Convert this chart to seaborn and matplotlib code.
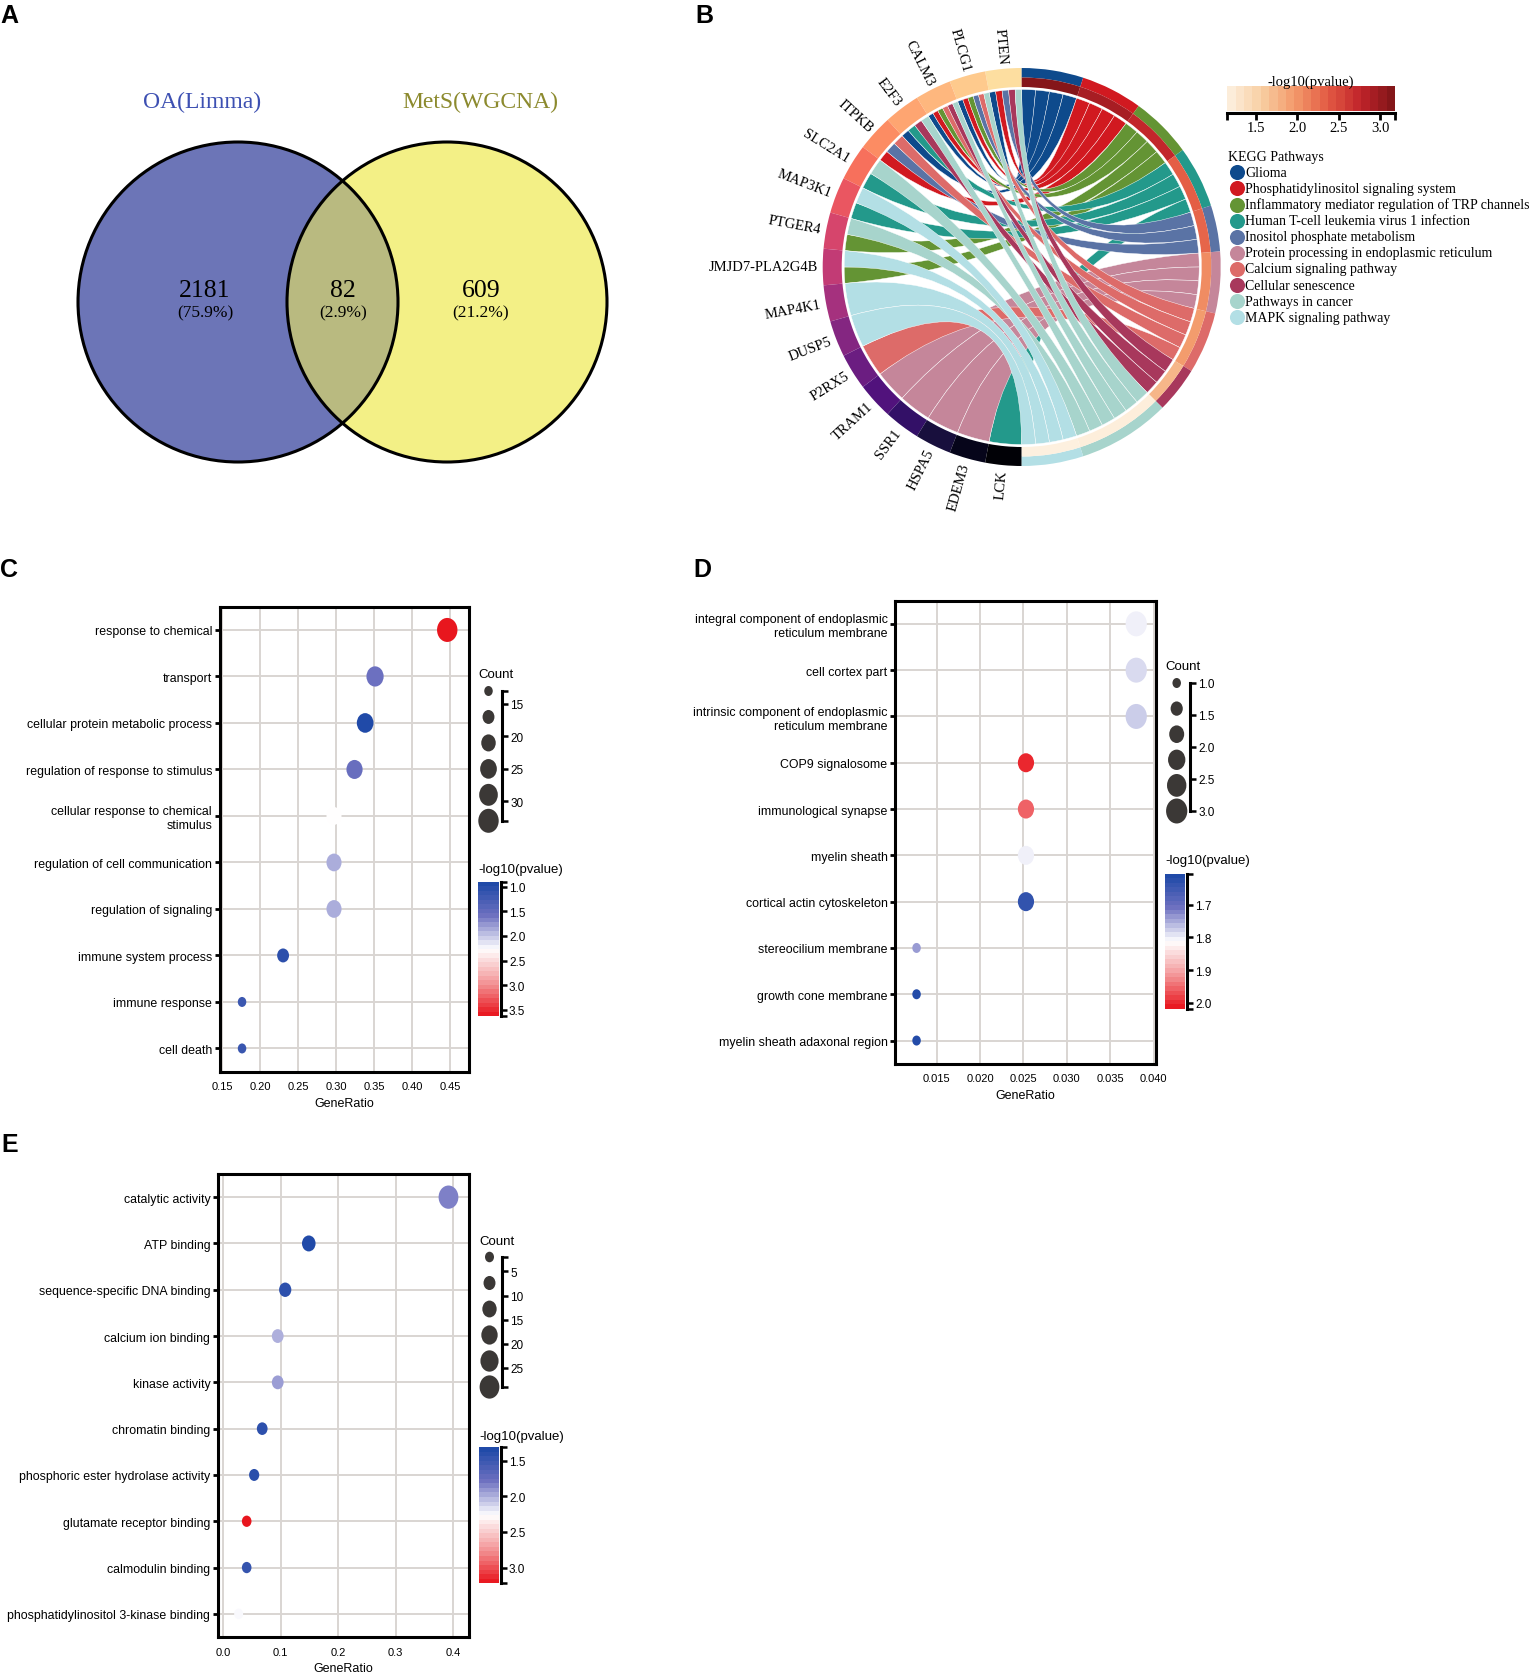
import numpy as np
import pandas as pd
import matplotlib
matplotlib.use('Agg')
import matplotlib.pyplot as plt
import seaborn as sns
from matplotlib.path import Path
from matplotlib.patches import PathPatch, Wedge, Circle
from matplotlib.colors import LinearSegmentedColormap, Normalize
from matplotlib.transforms import Affine2D

W, H = 1540, 1681

# ---------------- data ----------------
# A: venn
venn_names = ['OA(Limma)', 'MetS(WGCNA)']
venn_name_colors = ['#3d50b2', '#8c8a2e']
venn_counts = [2181, 82, 609]
venn_pcts = ['(75.9%)', '(2.9%)', '(21.2%)']

# B: KEGG chord
genes = ['PTEN', 'PLCG1', 'CALM3', 'E2F3', 'ITPKB', 'SLC2A1', 'MAP3K1', 'PTGER4',
         'JMJD7-PLA2G4B', 'MAP4K1', 'DUSP5', 'P2RX5', 'TRAM1', 'SSR1', 'HSPA5', 'EDEM3', 'LCK']
gene_level = [0.93, 0.89, 0.85, 0.81, 0.76, 0.70, 0.64, 0.58, 0.53, 0.46,
              0.38, 0.32, 0.25, 0.18, 0.11, 0.05, 0.01]
pathways = ['Glioma', 'Phosphatidylinositol signaling system',
            'Inflammatory mediator regulation of TRP channels',
            'Human T-cell leukemia virus 1 infection', 'Inositol phosphate metabolism',
            'Protein processing in endoplasmic reticulum', 'Calcium signaling pathway',
            'Cellular senescence', 'Pathways in cancer', 'MAPK signaling pathway']
pathway_colors = ['#0e4a8c', '#d11920', '#649434', '#23998b', '#5a73a5',
                  '#c5869a', '#dd6b69', '#a8385c', '#a7d4cc', '#b3dfe5']
pathway_logp = [3.12, 2.92, 2.75, 2.35, 2.30, 2.05, 1.95, 1.75, 1.20, 1.18]
# pathway indices linked to each gene
gene_pathways = [[0, 1, 4, 7, 8], [0, 1, 2, 4, 6, 8], [0, 1, 2, 6, 7, 8], [0, 3, 7, 8],
                 [1, 4, 6], [3, 8], [3, 9], [2, 8], [2, 9], [9], [9], [6],
                 [5], [5], [5], [5], [3]]

# C: GO BP
c_terms = ['response to chemical', 'transport', 'cellular protein metabolic process',
           'regulation of response to stimulus', 'cellular response to chemical\nstimulus',
           'regulation of cell communication', 'regulation of signaling',
           'immune system process', 'immune response', 'cell death']
c_ratio = [0.446, 0.351, 0.338, 0.324, 0.297, 0.297, 0.297, 0.230, 0.176, 0.176]
c_count = [33, 26, 25, 24, 22, 22, 22, 17, 13, 13]
c_logp = [3.60, 1.58, 0.95, 1.55, 2.27, 1.88, 1.88, 1.04, 1.17, 1.15]

# D: GO CC
d_terms = ['integral component of endoplasmic\nreticulum membrane', 'cell cortex part',
           'intrinsic component of endoplasmic\nreticulum membrane', 'COP9 signalosome',
           'immunological synapse', 'myelin sheath', 'cortical actin cytoskeleton',
           'stereocilium membrane', 'growth cone membrane', 'myelin sheath adaxonal region']
d_ratio = [0.0380, 0.0380, 0.0380, 0.0253, 0.0253, 0.0253, 0.0253, 0.0127, 0.0127, 0.0127]
d_count = [3, 3, 3, 2, 2, 2, 2, 1, 1, 1]
d_logp = [1.80, 1.785, 1.775, 2.00, 1.955, 1.80, 1.635, 1.74, 1.615, 1.615]

# E: GO MF
e_terms = ['catalytic activity', 'ATP binding', 'sequence-specific DNA binding',
           'calcium ion binding', 'kinase activity', 'chromatin binding',
           'phosphoric ester hydrolase activity', 'glutamate receptor binding',
           'calmodulin binding', 'phosphatidylinositol 3-kinase binding']
e_ratio = [0.392, 0.149, 0.108, 0.095, 0.095, 0.068, 0.054, 0.041, 0.041, 0.027]
e_count = [29, 11, 8, 7, 7, 5, 4, 3, 3, 2]
e_logp = [1.84, 1.35, 1.42, 2.00, 1.94, 1.42, 1.40, 3.20, 1.46, 2.25]

# ---------------- style ----------------
sns.set_theme(style='white', rc={'text.color': 'black', 'axes.labelcolor': 'black',
                                 'xtick.color': 'black', 'ytick.color': 'black'})
plt.rcParams['font.family'] = ['Liberation Sans', 'DejaVu Sans']
SERIF = ['Liberation Serif', 'DejaVu Serif']
SANS = ['Liberation Sans', 'DejaVu Sans']

cmap_dot = LinearSegmentedColormap.from_list(
    'bwr_dot', [(0, '#1b47a6'), (0.25, '#6d70c0'), (0.5, '#ffffff'),
                (0.75, '#f3989a'), (1, '#e8121a')])
cmap_p = LinearSegmentedColormap.from_list(
    'orrd_p', ['#fdf1e1', '#f8cfa3', '#f39a6b', '#e35a43', '#c0232a', '#7c1417'])
ell = Path.unit_circle().transformed(Affine2D().scale(0.85, 1.0))

fig = plt.figure(figsize=(W / 100, H / 100), dpi=100)


def px_axes(x0, y0, x1, y1):
    return fig.add_axes([x0 / W, 1 - y1 / H, (x1 - x0) / W, (y1 - y0) / H])


ov = px_axes(0, 0, W, H)
ov.set_xlim(0, W)
ov.set_ylim(H, 0)
ov.axis('off')

# panel letters
for lab, x, y in [('A', 0, 4), ('B', 695, 4), ('C', 0, 558), ('D', 693, 558), ('E', 1, 1133)]:
    ov.text(x, y, lab, ha='left', va='top', fontsize=18, weight='bold', family=SANS)

# ---------------- A: venn ----------------
left = Circle((238, 303), 160, facecolor='#6c75b7', edgecolor='none')
right = Circle((447, 303), 160, facecolor='#f3f086', edgecolor='none')
ov.add_patch(left)
ov.add_patch(right)
lens = Circle((447, 303), 160, facecolor='#b9ba80', edgecolor='none')
ov.add_patch(lens)
lens.set_clip_path(left)
for cx in (238, 447):
    ov.add_patch(Circle((cx, 303), 160, facecolor='none', edgecolor='black', lw=2.2))
for name, col, x in zip(venn_names, venn_name_colors, [202, 480]):
    ov.text(x, 102, name, ha='center', va='center', color=col, fontsize=17, family=SERIF)
for n, p, x in zip(venn_counts, venn_pcts, [205, 343, 481]):
    ov.text(x, 291, str(n), ha='center', va='center', fontsize=18.5, family=SERIF)
    ov.text(x, 313, p, ha='center', va='center', fontsize=12.5, family=SERIF)

# ---------------- B: chord ----------------
CX, CY = 1021.7, 268
axb = px_axes(CX - 240, CY - 240, CX + 240, CY + 240)
axb.set_xlim(-240, 240)
axb.set_ylim(-240, 240)
axb.axis('off')
R_OUT, R_MID, R_IN, R_LINK = 199, 189.5, 180, 177.5

norm_p = Normalize(1.157, 3.18)
gene_cols = plt.get_cmap('magma')(np.array(gene_level))
n_gene = len(genes)
g_span = 180.0 / n_gene

path_n = np.zeros(len(pathways), int)
for pl in gene_pathways:
    for p in pl:
        path_n[p] += 1
p_w = 180.0 * path_n / path_n.sum()
p_top = 90 - np.concatenate([[0], np.cumsum(p_w)[:-1]])

# gene end arcs: within a gene, higher pathway index sits nearer the top
gene_arc = {}
for g, pl in enumerate(gene_pathways):
    a0 = 90 + g * g_span
    k = len(pl)
    for j, p in enumerate(sorted(pl, reverse=True)):
        gene_arc[(g, p)] = (a0 + j * g_span / k, a0 + (j + 1) * g_span / k)
# pathway end arcs: genes in order, going clockwise
path_arc = {}
for p in range(len(pathways)):
    members = [g for g, pl in enumerate(gene_pathways) if p in pl]
    step = p_w[p] / len(members)
    for j, g in enumerate(members):
        path_arc[(g, p)] = (p_top[p] - (j + 1) * step, p_top[p] - j * step)


def arc_pts(a0, a1, r, n=24):
    t = np.radians(np.linspace(a0, a1, n))
    return np.column_stack([r * np.cos(t), r * np.sin(t)])


for p in range(len(pathways)):
    for g, pl in enumerate(gene_pathways):
        if p not in pl:
            continue
        ga = arc_pts(*gene_arc[(g, p)], R_LINK)
        pa = arc_pts(*path_arc[(g, p)], R_LINK)
        verts = list(ga) + [(0, 0), pa[0]] + list(pa[1:]) + [(0, 0), ga[0]]
        codes = ([Path.MOVETO] + [Path.LINETO] * (len(ga) - 1) + [Path.CURVE3, Path.CURVE3]
                 + [Path.LINETO] * (len(pa) - 1) + [Path.CURVE3, Path.CURVE3])
        axb.add_patch(PathPatch(Path(verts, codes), facecolor=pathway_colors[p],
                                edgecolor='white', lw=0.3, zorder=2))

for g, name in enumerate(genes):
    a0 = 90 + g * g_span
    axb.add_patch(Wedge((0, 0), R_OUT, a0, a0 + g_span, width=R_OUT - R_IN,
                        facecolor=gene_cols[g], edgecolor='none', zorder=3))
    am = a0 + g_span / 2
    t = np.radians(am)
    axb.text((R_OUT + 5) * np.cos(t), (R_OUT + 5) * np.sin(t), name, rotation=am - 180,
             rotation_mode='anchor', ha='right', va='center', fontsize=10.5, family=SERIF)

for p in range(len(pathways)):
    b0, b1 = p_top[p] - p_w[p], p_top[p]
    axb.add_patch(Wedge((0, 0), R_OUT, b0, b1, width=R_OUT - R_MID,
                        facecolor=pathway_colors[p], edgecolor='none', zorder=3))
    axb.add_patch(Wedge((0, 0), R_MID, b0, b1, width=R_MID - R_IN,
                        facecolor=cmap_p(norm_p(pathway_logp[p])), edgecolor='none', zorder=3))

# B legend
ov.text(1228, 158, 'KEGG Pathways', ha='left', va='center', fontsize=10, family=SERIF)
for i, (name, col) in enumerate(zip(pathways, pathway_colors)):
    y = 173.3 + i * 16.1
    ov.scatter([1236.7], [y], s=118, color=col, linewidths=0)
    ov.text(1245, y, name, ha='left', va='center', fontsize=10, family=SERIF)

# B p-value bar
bax = px_axes(1227.3, 87.3, 1395, 111.7)
edges = np.linspace(norm_p.vmin, norm_p.vmax, 21)
mids = (edges[:-1] + edges[1:]) / 2
bax.pcolormesh(edges, [0, 1], mids[None, :], cmap=cmap_p, norm=norm_p, shading='flat')
bax.set_xlim(norm_p.vmin, norm_p.vmax)
bax.set_ylim(0, 1)
for s in ['top', 'left', 'right']:
    bax.spines[s].set_visible(False)
bax.spines['bottom'].set_position(('outward', 1.5))
bax.spines['bottom'].set_linewidth(2.2)
bax.spines['bottom'].set_color('black')
bax.set_yticks([])
bax.set_xticks([norm_p.vmin, 1.5, 2.0, 2.5, 3.0, norm_p.vmax])
bax.set_xticklabels(['', '1.5', '2.0', '2.5', '3.0', ''], family=SERIF, fontsize=10.5)
bax.tick_params(axis='x', bottom=True, direction='out', length=5, width=2, pad=1)
bax.set_title('-log10(pvalue)', fontsize=10.5, family=SERIF, pad=1)


# ---------------- C, D, E: dot plots ----------------
def dot_panel(box, terms, ratio, count, logp, xlim, xticks, xfmt, s_rng, c_rng, v_rng):
    ax = px_axes(*box)
    df = pd.DataFrame({'term': terms, 'GeneRatio': ratio, 'Count': count, 'logp': logp})
    sns.scatterplot(data=df, x='GeneRatio', y='term', size='Count', sizes=s_rng,
                    size_norm=c_rng, hue='logp', palette=cmap_dot, hue_norm=v_rng,
                    marker=ell, linewidth=0, legend=False, ax=ax, zorder=3)
    ax.set_xlim(*xlim)
    ax.set_ylim(len(terms) - 0.5, -0.5)
    ax.set_xticks(xticks)
    ax.set_xticklabels([xfmt.format(v) for v in xticks])
    ax.grid(True, color='#d9d5d2', lw=1.4)
    ax.set_axisbelow(True)
    for sp in ax.spines.values():
        sp.set_visible(True)
        sp.set_color('black')
        sp.set_linewidth(2.2)
    ax.tick_params(axis='y', left=True, length=3.5, width=2, color='black', pad=2, labelsize=8.9)
    ax.tick_params(axis='x', bottom=False, length=0, pad=7, labelsize=8)
    ax.set_xlabel('GeneRatio', fontsize=9, labelpad=4)
    ax.set_ylabel('')
    return ax


def count_legend(x_c, x_l, y_t, y_b, c_rng, ticks, fmt, s_rng, title_xy):
    lax = px_axes(2 * x_c - x_l, y_t, x_l, y_b)
    vals = np.linspace(c_rng[0], c_rng[1], 6)
    sns.scatterplot(x=np.full(6, 0.5), y=vals, size=vals, sizes=s_rng, size_norm=c_rng,
                    color='#3b3836', marker=ell, linewidth=0, legend=False, ax=lax, clip_on=False)
    lax.set_xlim(0, 1)
    lax.set_ylim(c_rng[1], c_rng[0])
    for s in ['top', 'left', 'bottom']:
        lax.spines[s].set_visible(False)
    lax.spines['right'].set_visible(True)
    lax.spines['right'].set_color('black')
    lax.spines['right'].set_linewidth(2.2)
    lax.set_xticks([])
    lax.yaxis.tick_right()
    lax.set_yticks(ticks)
    lax.set_yticklabels([fmt.format(v) for v in ticks])
    lax.set_yticks(list(c_rng), minor=True)
    lax.tick_params(axis='y', which='both', direction='out', length=4, width=1.8, pad=2,
                    labelsize=8.5)
    lax.set_xlabel('')
    lax.set_ylabel('')
    ov.text(title_xy[0], title_xy[1], 'Count', ha='left', va='center', fontsize=9.5)


def color_legend(x0, x1, y_t, y_b, v_rng, ticks, title_xy):
    cax = px_axes(x0, y_t, x1, y_b)
    edges = np.linspace(v_rng[0], v_rng[1], 31)
    mids = (edges[:-1] + edges[1:]) / 2
    cax.pcolormesh([0, 1], edges, mids[:, None], cmap=cmap_dot, norm=Normalize(*v_rng),
                   shading='flat')
    cax.set_xlim(0, 1)
    cax.set_ylim(v_rng[1], v_rng[0])
    for s in ['top', 'left', 'bottom']:
        cax.spines[s].set_visible(False)
    cax.spines['right'].set_visible(True)
    cax.spines['right'].set_position(('outward', 1.5))
    cax.spines['right'].set_color('black')
    cax.spines['right'].set_linewidth(2.2)
    cax.set_xticks([])
    cax.yaxis.tick_right()
    cax.set_yticks(ticks)
    cax.set_yticklabels(['{:.1f}'.format(v) for v in ticks])
    cax.set_yticks(list(v_rng), minor=True)
    cax.tick_params(axis='y', which='both', direction='out', length=4, width=1.8, pad=2,
                    labelsize=8.5)
    ov.text(title_xy[0], title_xy[1], '-log10(pvalue)', ha='left', va='center', fontsize=9.5)


# C
dot_panel((219.7, 607.7, 468.9, 1072.7), c_terms, c_ratio, c_count, c_logp,
          (0.1466, 0.4745), [0.15, 0.20, 0.25, 0.30, 0.35, 0.40, 0.45], '{:.2f}',
          (52, 299), (13, 33), (0.90, 3.63))
count_legend(488.5, 502, 692, 821.8, (13, 33), [15, 20, 25, 30], '{:.0f}', (52, 299),
             (478.4, 675))
color_legend(478.4, 498.6, 882.7, 1017.3, (0.90, 3.63), [1.0, 1.5, 2.0, 2.5, 3.0, 3.5],
             (478.4, 870))

# D
dot_panel((895.2, 601.7, 1156.2, 1064.7), d_terms, d_ratio, d_count, d_logp,
          (0.01024, 0.0403), [0.015, 0.020, 0.025, 0.030, 0.035, 0.040], '{:.3f}',
          (52, 324), (1, 3), (1.605, 2.017))
count_legend(1176.7, 1190, 684, 812, (1, 3), [1.0, 1.5, 2.0, 2.5, 3.0], '{:.1f}', (52, 324),
             (1165, 666.6))
color_legend(1165, 1185, 874.5, 1009.5, (1.605, 2.017), [1.7, 1.8, 1.9, 2.0], (1165, 860.6))

# E
dot_panel((218, 1175, 469, 1638), e_terms, e_ratio, e_count, e_logp,
          (-0.0089, 0.4277), [0.0, 0.1, 0.2, 0.3, 0.4], '{:.1f}',
          (58, 281), (2, 29), (1.31, 3.22))
count_legend(489.5, 502, 1258, 1388, (2, 29), [5, 10, 15, 20, 25], '{:.0f}', (58, 281),
             (479.4, 1241.7))
color_legend(479.4, 498.6, 1448, 1584.3, (1.31, 3.22), [1.5, 2.0, 2.5, 3.0], (479.4, 1436.7))

fig.savefig('out.png', dpi=100)
